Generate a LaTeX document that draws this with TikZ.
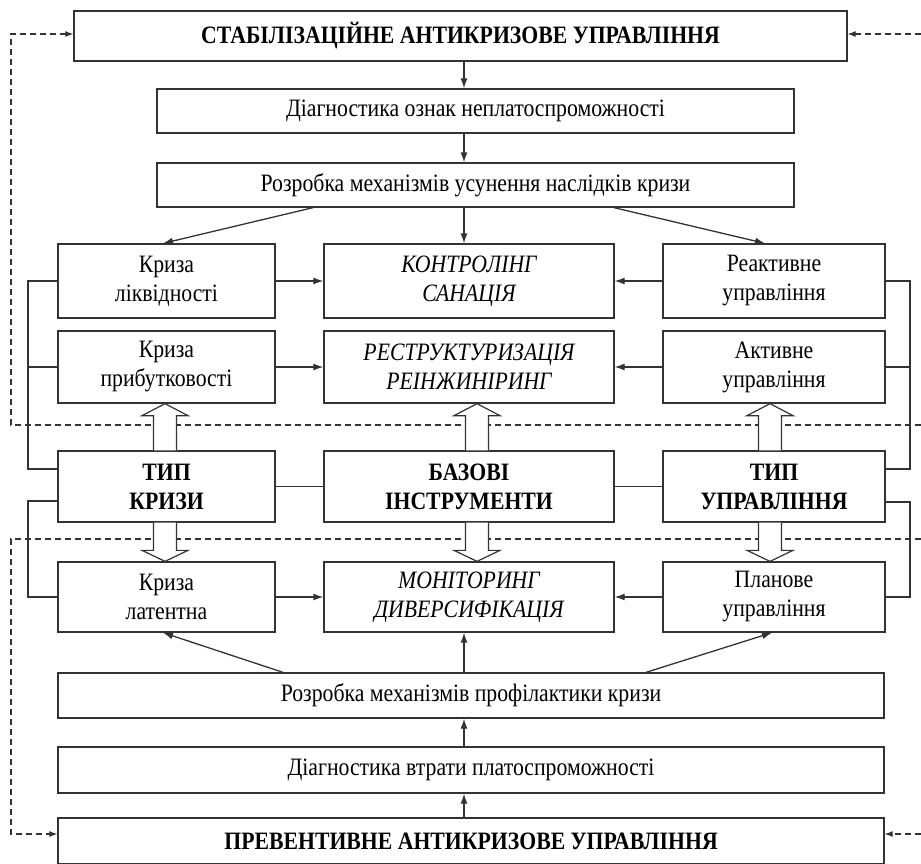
\documentclass[tikz,border=0pt]{standalone}
\usepackage{fontspec}
\setmainfont{Liberation Serif}[FakeStretch=0.87]
\usetikzlibrary{arrows.meta,calc}
\newcommand\mysz{\fontsize{25}{29}\selectfont}
\begin{document}
\begin{tikzpicture}[x=1pt,y=-1pt,font=\mysz,
  ln/.style={draw=black!80,line width=1.3pt},
  box/.style={ln,inner sep=0pt,align=center,fill=white},
  bx/.style={box,font=\mysz\bfseries},
  ix/.style={box,font=\mysz\itshape},
  arr/.style={ln,-{Latex[length=10pt,width=7pt]}},
  dsh/.style={draw=black!80,line width=1.1pt,dash pattern=on 6pt off 4pt,-{Latex[length=8pt,width=6pt]}},
  hollow/.style={draw=black!80,line width=1.2pt,fill=white,line join=miter}]
\useasboundingbox (0,0) rectangle (921,863);
\clip (0,0) rectangle (921,863);

% columns
\coordinate (Lx) at (28,0);
\coordinate (Rx) at (910,0);
\coordinate (Cv) at (464,0);
\coordinate (HL) at (165,0);
\coordinate (HC) at (477,0);
\coordinate (HR) at (770,0);

% boxes
\node[bx,minimum width=773pt,minimum height=50pt] (stab) at (460.5,36) {СТАБІЛІЗАЦІЙНЕ АНТИКРИЗОВЕ УПРАВЛІННЯ};
\node[box,minimum width=637pt,minimum height=44pt] (diag1) at (475.5,111) {Діагностика ознак неплатоспроможності};
\node[box,minimum width=637pt,minimum height=44pt] (rozr1) at (475.5,185) {Розробка механізмів усунення наслідків кризи};

\node[box,minimum width=217pt,minimum height=74pt] (kl) at (166.5,281) {Криза\\ліквідності};
\node[ix,minimum width=290pt,minimum height=74pt] (ks) at (469,281) {КОНТРОЛІНГ\\САНАЦІЯ};
\node[box,minimum width=222pt,minimum height=74pt] (re) at (774,281) {Реактивне\\управління};

\node[box,minimum width=217pt,minimum height=72pt] (kp) at (166.5,367) {Криза\\прибутковості};
\node[ix,minimum width=290pt,minimum height=72pt] (rr) at (469,367) {РЕСТРУКТУРИЗАЦІЯ\\РЕІНЖИНІРИНГ};
\node[box,minimum width=222pt,minimum height=72pt] (ak) at (774,367) {Активне\\управління};

\node[bx,minimum width=217pt,minimum height=71pt] (tk) at (166.5,486.5) {ТИП\\КРИЗИ};
\node[bx,minimum width=290pt,minimum height=71pt] (bi) at (469,486.5) {БАЗОВІ\\ІНСТРУМЕНТИ};
\node[bx,minimum width=222pt,minimum height=71pt] (tu) at (774,486.5) {ТИП\\УПРАВЛІННЯ};

\node[box,minimum width=217pt,minimum height=70pt] (kla) at (166.5,597) {Криза\\латентна};
\node[ix,minimum width=290pt,minimum height=70pt] (md) at (469,597) {МОНІТОРИНГ\\ДИВЕРСИФІКАЦІЯ};
\node[box,minimum width=222pt,minimum height=70pt] (pl) at (774,597) {Планове\\управління};

\node[box,minimum width=826pt,minimum height=45pt] (rozr2) at (471,695.5) {Розробка механізмів профілактики кризи};
\node[box,minimum width=826pt,minimum height=46pt] (diag2) at (471,770) {Діагностика втрати платоспроможності};
\node[bx,minimum width=826pt,minimum height=46pt] (prev) at (471,841) {ПРЕВЕНТИВНЕ АНТИКРИЗОВЕ УПРАВЛІННЯ};

% dashed feedback lines
\coordinate (dr0) at (921,34);
\coordinate (dr1) at (921,425);
\coordinate (dl1) at (11,425);
\coordinate (dr2) at (921,539);
\coordinate (dl2) at (11,539);
\coordinate (dr3) at (921,834);
\draw[dsh] (dr1) -- (dl1) |- ($(stab.west)+(0,-2)$);
\draw[dsh] (dr0) -- ($(stab.east)+(0,-2)$);
\draw[dsh] (dr2) -- (dl2) |- ($(prev.west)+(0,-7)$);
\draw[dsh] (dr3) -- ($(prev.east)+(0,-7)$);

% top vertical arrows
\draw[arr] (stab.south -| Cv) -- (diag1.north -| Cv);
\draw[arr] (diag1.south -| Cv) -- (rozr1.north -| Cv);
\draw[arr] (rozr1.south -| Cv) -- (ks.north -| Cv);
\coordinate (t1) at (313,0); \coordinate (t2) at (163,0);
\coordinate (t3) at (614,0); \coordinate (t4) at (765,0);
\draw[arr] (rozr1.south -| t1) -- (kl.north -| t2);
\draw[arr] (rozr1.south -| t3) -- (re.north -| t4);

% bottom vertical arrows
\draw[arr] (prev.north -| Cv) -- (diag2.south -| Cv);
\draw[arr] (diag2.north -| Cv) -- (rozr2.south -| Cv);
\draw[arr] (rozr2.north -| Cv) -- (md.south -| Cv);
\coordinate (b1) at (283,0); \coordinate (b2) at (163,0);
\coordinate (b3) at (646,0); \coordinate (b4) at (772,0);
\draw[arr] (rozr2.north -| b1) -- (kla.south -| b2);
\draw[arr] (rozr2.north -| b3) -- (pl.south -| b4);

% horizontal arrows
\draw[arr] (kl.east) -- (ks.west);
\draw[arr] (re.west) -- (ks.east);
\draw[arr] (kp.east) -- (rr.west);
\draw[arr] (ak.west) -- (rr.east);
\draw[arr] (kla.east) -- (md.west);
\draw[arr] (pl.west) -- (md.east);

% row 3 links
\draw[ln,line width=1pt] (tk.east) -- (bi.west);
\draw[ln,line width=1pt] (bi.east) -- (tu.west);

% left brackets
\draw[ln] (kl.west) -- (kl.west -| Lx) -- ($(tk.west -| Lx)+(0,-17.5)$) -- ($(tk.west)+(0,-17.5)$);
\draw[ln] (kp.west) -- (kp.west -| Lx);
\draw[ln] ($(tk.west)+(0,14.5)$) -- ($(tk.west -| Lx)+(0,14.5)$) -- (kla.west -| Lx) -- (kla.west);
% right brackets
\draw[ln] (re.east) -- (re.east -| Rx) -- ($(tu.east -| Rx)+(0,-17.5)$) -- ($(tu.east)+(0,-17.5)$);
\draw[ln] (ak.east) -- (ak.east -| Rx);
\draw[ln] ($(tu.east)+(0,15.5)$) -- ($(tu.east -| Rx)+(0,15.5)$) -- (pl.east -| Rx) -- (pl.east);

% hollow arrows up (row 3 -> row 2)
\foreach \c/\t/\b in {HL/tk/kp, HC/bi/rr, HR/tu/ak}{
  \draw[hollow] ($(\t.north -| \c)+(-11.5,0)$) -- ($(\b.south -| \c)+(-11.5,12)$) -- ($(\b.south -| \c)+(-23,12)$) -- (\b.south -| \c) -- ($(\b.south -| \c)+(23,12)$) -- ($(\b.south -| \c)+(11.5,12)$) -- ($(\t.north -| \c)+(11.5,0)$);
}
% hollow arrows down (row 3 -> row 4)
\foreach \c/\t/\b in {HL/tk/kla, HC/bi/md, HR/tu/pl}{
  \draw[hollow] ($(\t.south -| \c)+(-11.5,0)$) -- ($(\b.north -| \c)+(-11.5,-11)$) -- ($(\b.north -| \c)+(-23,-11)$) -- (\b.north -| \c) -- ($(\b.north -| \c)+(23,-11)$) -- ($(\b.north -| \c)+(11.5,-11)$) -- ($(\t.south -| \c)+(11.5,0)$);
}
\end{tikzpicture}
\end{document}
